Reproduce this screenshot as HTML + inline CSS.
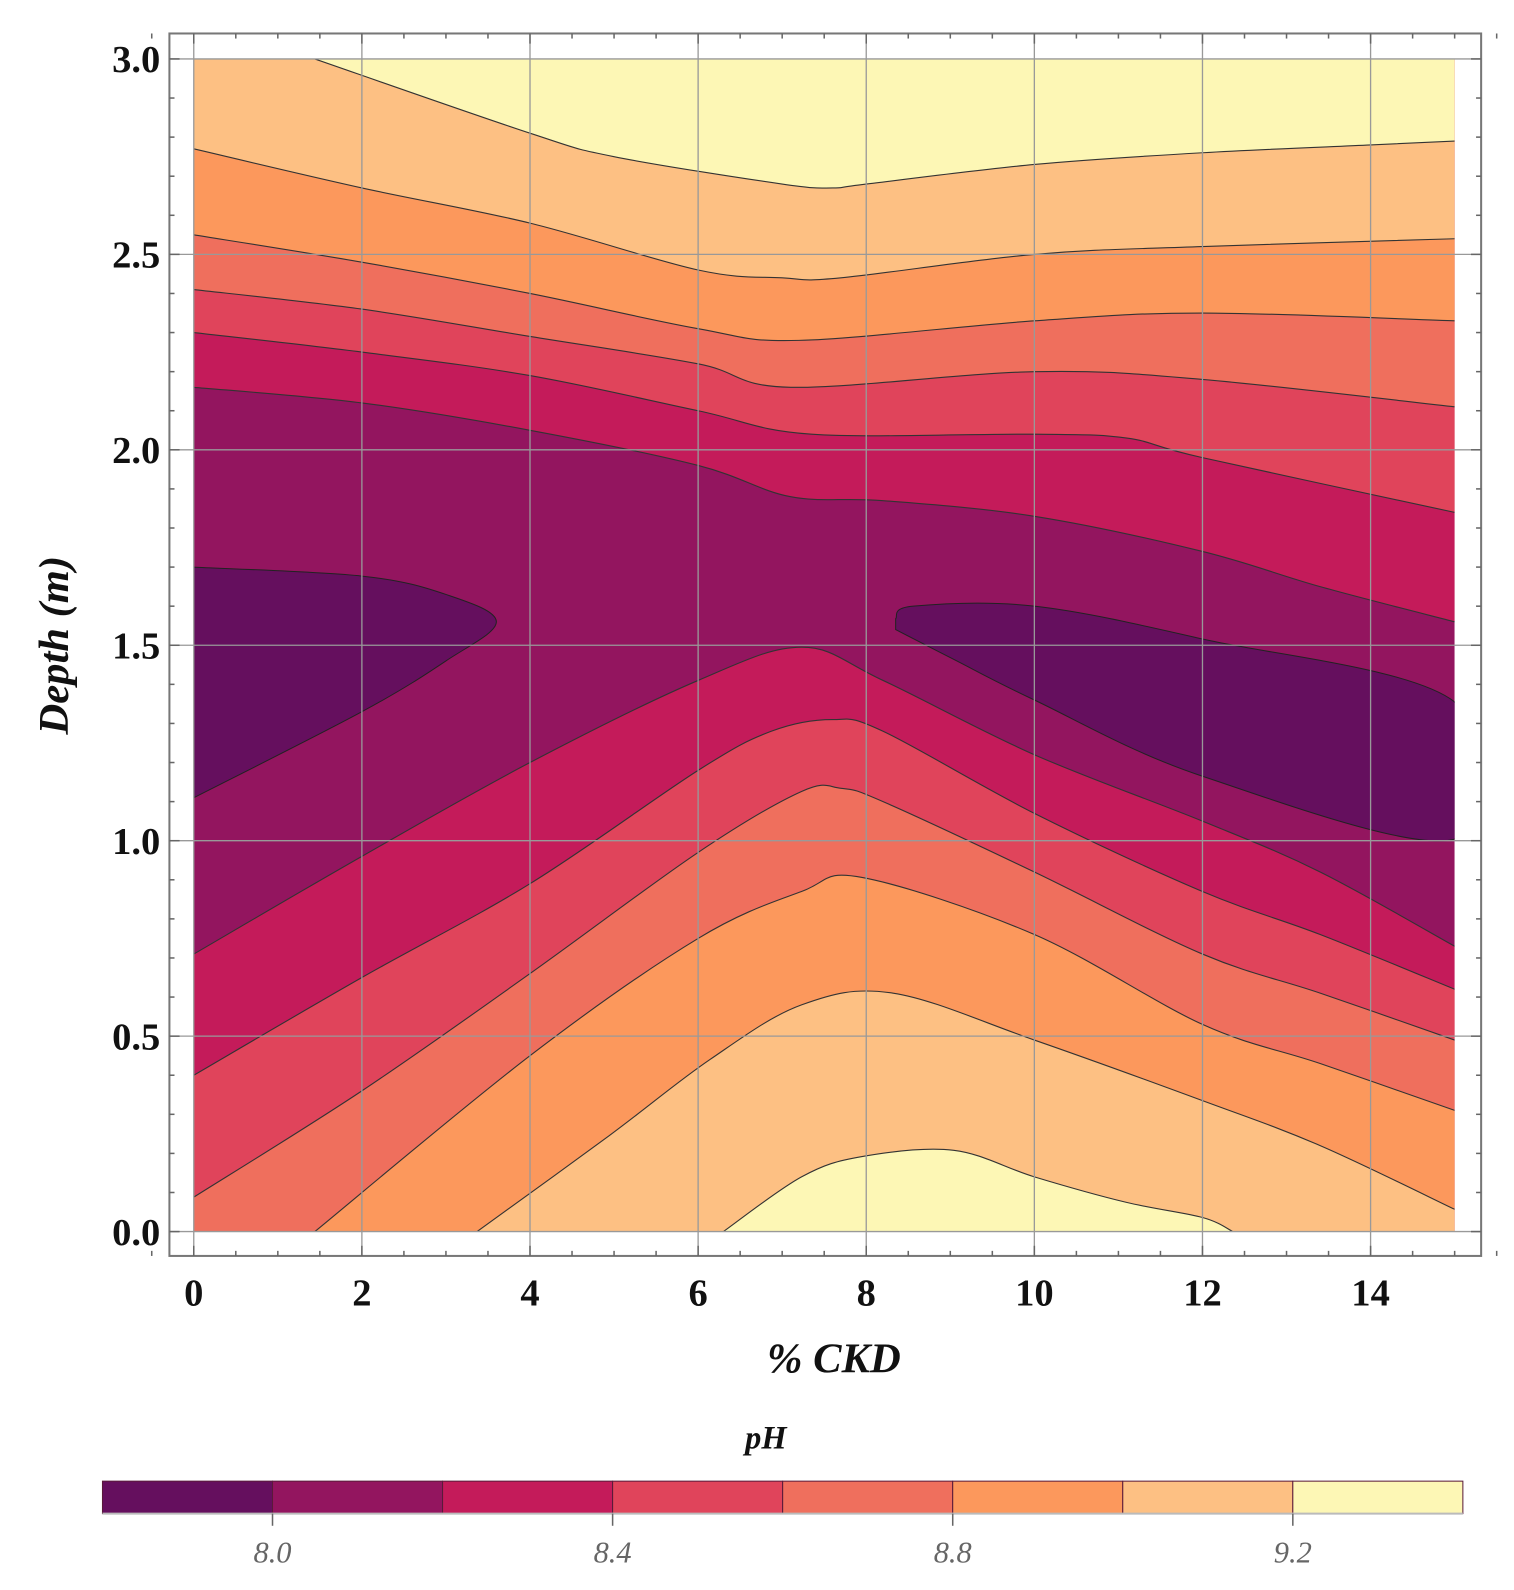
<!DOCTYPE html>
<html><head><meta charset="utf-8"><style>
body{margin:0;background:#fff;width:1514px;height:1590px;overflow:hidden}
svg{display:block}
text{font-family:"Liberation Serif",serif}
</style></head><body>
<svg id="chart" width="1514" height="1590" viewBox="0 0 1492.4 1567.3" preserveAspectRatio="none" xmlns="http://www.w3.org/2000/svg"></svg>
<script>
const levels = [8.0, 8.2, 8.4, 8.6, 8.8, 9.0, 9.2];
const bandColors = ["#650f5e","#93155f","#c41b5a","#e0445b","#ef6f5d","#fc985c","#fdc083","#fdf7b5"];
const xTicks = [0,2,4,6,8,10,12,14];
const yTicks = [0.0,0.5,1.0,1.5,2.0,2.5,3.0];
const cbTicks = [8.0,8.4,8.8,9.2];
// upper contours [ckd, depth] (region above = value >= level)
const upper82 = [[0,2.16],[2,2.12],[4,2.05],[6,1.96],[7.1,1.88],[8.2,1.87],[10,1.83],[12,1.74],[13.4,1.65],[15,1.56]];
const upper84 = [[0,2.30],[2,2.25],[4,2.19],[6,2.10],[7.35,2.04],[10,2.04],[11.1,2.03],[12,1.98],[15,1.84]];
const upper86 = [[0,2.41],[2,2.36],[4,2.29],[6,2.22],[7.1,2.16],[10,2.20],[12,2.18],[15,2.11]];
const upper88 = [[0,2.55],[2,2.48],[4,2.40],[6,2.31],[7.2,2.28],[10,2.33],[12,2.35],[15,2.33]];
const upper90 = [[0,2.77],[2,2.67],[4,2.58],[6,2.46],[7,2.44],[7.7,2.44],[10,2.50],[12,2.52],[15,2.54]];
const upper92 = [[1.44,3.0],[4,2.81],[5,2.75],[7,2.68],[7.6,2.67],[8,2.68],[10,2.73],[12,2.76],[14,2.78],[15,2.79]];
// lower contours (region below = value >= level)
const lower82 = [[0,0.71],[2,0.96],[4,1.20],[6,1.41],[7.23,1.495],[8.2,1.41],[10,1.22],[12,1.05],[13.4,0.92],[15,0.73]];
const lower84 = [[0,0.40],[2,0.65],[4,0.89],[6,1.18],[6.87,1.28],[7.6,1.31],[8.2,1.28],[10,1.07],[12,0.87],[13.4,0.76],[15,0.62]];
const lower86 = [[0,0.088],[2,0.36],[4,0.66],[6,0.97],[7.23,1.126],[7.7,1.134],[8.2,1.10],[10,0.92],[12,0.71],[13.4,0.61],[15,0.49]];
const lower88 = [[1.44,0],[4,0.45],[6,0.75],[7.23,0.87],[7.95,0.906],[10,0.76],[12,0.53],[13.4,0.43],[15,0.31]];
const lower90 = [[3.37,0],[4.94,0.245],[6.14,0.44],[7.23,0.58],[8.32,0.61],[10,0.49],[12,0.335],[13.4,0.22],[15,0.057]];
const lower92 = [[6.3,0],[7.23,0.14],[7.95,0.192],[9.04,0.208],[10,0.14],[11.09,0.075],[12,0.036],[12.36,0]];
// islands with value < 8.0
const islandLeft = [[0,1.70],[2,1.677],[3,1.63],[3.6,1.56],[3,1.46],[2,1.33],[0,1.11]];
const islandRight = [[8.35,1.568],[8.56,1.60],[10,1.60],[12,1.516],[15,1.355],[15,1.004],[12,1.165],[10,1.36],[9.04,1.464],[8.35,1.54]];

const NS="http://www.w3.org/2000/svg";
const svg=document.getElementById('chart');
const X0=191, XS=82.86, Y0=1214, YS=385.3;
const sx=v=>X0+v*XS, sy=v=>Y0-v*YS;
function mk(tag,attrs,parent){const e=document.createElementNS(NS,tag);for(const k in attrs)e.setAttribute(k,attrs[k]);(parent||svg).appendChild(e);return e;}
function smooth(pts){const p=pts.map(q=>[sx(q[0]),sy(q[1])]);let d=`M${p[0][0]},${p[0][1]}`;
 for(let i=0;i<p.length-1;i++){const a=p[Math.max(i-1,0)],b=p[i],c=p[i+1],e=p[Math.min(i+2,p.length-1)];
 const c1=[b[0]+(c[0]-a[0])/6,b[1]+(c[1]-a[1])/6],c2=[c[0]-(e[0]-b[0])/6,c[1]-(e[1]-b[1])/6];
 d+=` C${c1[0]},${c1[1]} ${c2[0]},${c2[1]} ${c[0]},${c[1]}`;}return d;}
const clip=mk('clipPath',{id:'pc'});mk('rect',{x:sx(0),y:sy(3),width:sx(15)-sx(0),height:sy(0)-sy(3)},clip);
const g=mk('g',{'clip-path':'url(#pc)'});
const bg=mk('rect',{x:sx(0),y:sy(3),width:sx(15)-sx(0),height:sy(0)-sy(3),fill:bandColors[1]},g);


[islandLeft,islandRight].forEach((isl,i)=>{const p=mk('path',{d:smooth(isl)+'Z',fill:bandColors[0],stroke:'#222','stroke-width':1},g);
 
 });
const uppers=[upper82,upper84,upper86,upper88,upper90,upper92];
const lowers=[lower82,lower84,lower86,lower88,lower90,lower92];
for(let i=0;i<uppers.length;i++){
 const col=bandColors[i+2];
 const u=mk('path',{d:smooth(uppers[i])+` L${sx(15)},${sy(3)} L${sx(0)},${sy(3)} Z`,fill:col},g);
 
 
 const l=mk('path',{d:smooth(lowers[i])+` L${sx(15)},${sy(0)} L${sx(0)},${sy(0)} Z`,fill:col},g);
 
 
}
for(let i=0;i<uppers.length;i++){
 [uppers[i],lowers[i]].forEach(c=>{const p=mk('path',{d:smooth(c),fill:'none',stroke:'#333','stroke-width':1.1},g);
 
 });
}
// grid
xTicks.forEach(v=>{const l=mk('line',{x1:sx(v),x2:sx(v),y1:33,y2:1238,stroke:'#999','stroke-width':1.3});
 });
yTicks.forEach(v=>{const l=mk('line',{x1:167,x2:1460,y1:sy(v),y2:sy(v),stroke:'#999','stroke-width':1.3});
 });
const fr=mk('rect',{x:167,y:33,width:1293,height:1205,fill:'none',stroke:'#777','stroke-width':2});

// minor ticks
for(let v=-0.5;v<=15.5;v+=0.5){const big=Math.abs(v%2)<1e-6;const len=big?10:5;
 [[1238,1238-len],[33,33+len]].forEach(([a,b])=>{const t=mk('line',{x1:sx(v),x2:sx(v),y1:a,y2:b,stroke:'#666','stroke-width':1.5});
 });}
for(let v=0;v<=3.0001;v+=0.1){const big=Math.abs((v*2)-Math.round(v*2))<1e-6;const len=big?10:5;
 [[167,167+len],[1460,1460-len]].forEach(([a,b])=>{const t=mk('line',{x1:a,x2:b,y1:sy(v),y2:sy(v),stroke:'#666','stroke-width':1.5});
 });}
xTicks.forEach(v=>{const t=mk('text',{x:sx(v),y:1287,'font-size':38,'font-weight':'bold','text-anchor':'middle',fill:'#111'});t.textContent=v;
 });
yTicks.forEach(v=>{const t=mk('text',{x:158,y:sy(v)+13,'font-size':38,'font-weight':'bold','text-anchor':'end',fill:'#111'});t.textContent=v.toFixed(1);
 });
const xt=mk('text',{x:822,y:1353,'font-size':42,'font-weight':'bold','font-style':'italic','text-anchor':'middle',fill:'#111'});xt.textContent='% CKD';

const yt=mk('text',{x:0,y:0,'font-size':42,'font-weight':'bold','font-style':'italic','text-anchor':'middle',fill:'#111',transform:'translate(67,636) rotate(-90)'});yt.textContent='Depth (m)';

// colorbar
const cbX0=101, cbX1=1442, cbMin=7.8, cbMax=9.4;
const cx=v=>cbX0+(v-cbMin)/(cbMax-cbMin)*(cbX1-cbX0);
const cbt=mk('text',{x:755,y:1428,'font-size':32,'font-weight':'bold','font-style':'italic','text-anchor':'middle',fill:'#111'});cbt.textContent='pH';

bandColors.forEach((c,i)=>{const lo=cbMin+i*0.2;const r=mk('rect',{x:cx(lo),y:1460,width:cx(lo+0.2)-cx(lo),height:32,fill:c,stroke:'#5a1a3a','stroke-width':1});
 });
mk('line',{x1:cbX0,x2:cbX1,y1:1492,y2:1492,stroke:'#bbb','stroke-width':2});
cbTicks.forEach(v=>{mk('line',{x1:cx(v),x2:cx(v),y1:1492,y2:1504,stroke:'#666','stroke-width':1.5});
 const t=mk('text',{x:cx(v),y:1540,'font-size':30,'font-style':'italic','text-anchor':'middle',fill:'#666'});t.textContent=v.toFixed(1);
 });
</script>
</body></html>
